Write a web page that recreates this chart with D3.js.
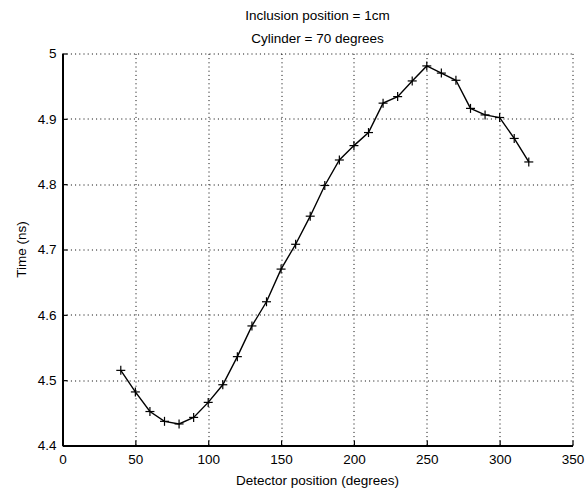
<!DOCTYPE html>
<html>
<head>
<meta charset="utf-8">
<script src="https://cdn.jsdelivr.net/npm/d3@7"></script>
<style>
  html, body { margin: 0; padding: 0; background: #fff; }
  svg { display: block; }
  text { font-family: "Liberation Sans", Arial, Helvetica, sans-serif; fill: #000; }
</style>
</head>
<body>
<div id="chart"></div>
<script>
// Detector positions (degrees) and measured times (ns)
const detectorPos = [40, 50, 60, 70, 80, 90, 100, 110, 120, 130, 140, 150, 160, 170, 180,
                     190, 200, 210, 220, 230, 240, 250, 260, 270, 280, 290, 300, 310, 320];
const timeNs = [4.515, 4.482, 4.452, 4.437, 4.433, 4.443, 4.466, 4.493, 4.536, 4.583,
                4.620, 4.670, 4.708, 4.751, 4.798, 4.837, 4.859, 4.879, 4.924, 4.934,
                4.958, 4.981, 4.970, 4.959, 4.916, 4.906, 4.902, 4.870, 4.834];

const xTicks = [0, 50, 100, 150, 200, 250, 300, 350];
const yTicks = [4.4, 4.5, 4.6, 4.7, 4.8, 4.9, 5];
const titleLines = ["Inclusion position = 1cm", "Cylinder = 70 degrees"];
const xLabel = "Detector position (degrees)";
const yLabel = "Time (ns)";

const W = 585, H = 492;
const margin = { left: 62.5, right: 12.5, top: 53.5, bottom: 46.5 };
const iw = W - margin.left - margin.right;
const ih = H - margin.top - margin.bottom;

const svg = d3.select("#chart").append("svg")
  .attr("width", W).attr("height", H);

const g = svg.append("g").attr("transform", `translate(${margin.left},${margin.top})`);

const x = d3.scaleLinear().domain([0, 350]).range([0, iw]);
const y = d3.scaleLinear().domain([4.4, 5]).range([ih, 0]);

// dotted grid
const grid = g.append("g").attr("stroke", "#000").attr("stroke-width", 1)
  .attr("stroke-dasharray", "1,3.2");
grid.selectAll("line.vx").data(xTicks.filter(d => d > 0)).join("line")
  .attr("x1", d => Math.round(x(d)) + 0.5).attr("x2", d => Math.round(x(d)) + 0.5)
  .attr("y1", ih).attr("y2", 0);
grid.selectAll("line.hy").data(yTicks.filter(d => d > 4.4)).join("line")
  .attr("x1", 0).attr("x2", iw)
  .attr("y1", d => Math.round(y(d)) + 0.5).attr("y2", d => Math.round(y(d)) + 0.5);

// axes: ticks point inward, labels outside
const xAxis = d3.axisBottom(x).tickValues(xTicks).tickFormat(d3.format("d"))
  .tickSizeInner(-5).tickSizeOuter(0).tickPadding(9);
const yAxis = d3.axisLeft(y).tickValues(yTicks).tickFormat(d => String(+d.toFixed(1)))
  .tickSizeInner(-5).tickSizeOuter(0).tickPadding(6);

const gx = g.append("g").attr("transform", `translate(0,${ih})`).call(xAxis);
const gy = g.append("g").call(yAxis);
[gx, gy].forEach(a => {
  a.select(".domain").attr("stroke", "#000").attr("stroke-width", 2);
  a.selectAll(".tick line").attr("stroke", "#000").attr("stroke-width", 1.2);
  a.selectAll(".tick text").attr("font-size", 13.5)
    .attr("font-family", '"Liberation Sans", Arial, sans-serif').attr("fill", "#000");
});

// data line
const line = d3.line().x((d, i) => x(detectorPos[i])).y(d => y(d));
g.append("path").datum(timeNs)
  .attr("fill", "none").attr("stroke", "#000").attr("stroke-width", 1.4)
  .attr("d", line);

// plus markers
const m = 4.5;
const marks = g.append("g").attr("stroke", "#000").attr("stroke-width", 1.2);
timeNs.forEach((v, i) => {
  const cx = x(detectorPos[i]), cy = y(v);
  marks.append("line").attr("x1", cx - m).attr("x2", cx + m).attr("y1", cy).attr("y2", cy);
  marks.append("line").attr("x1", cx).attr("x2", cx).attr("y1", cy - m).attr("y2", cy + m);
});

// title
const cxTitle = margin.left + iw / 2;
svg.selectAll("text.title").data(titleLines).join("text")
  .attr("class", "title")
  .attr("x", cxTitle).attr("y", (d, i) => 20 + i * 22.5)
  .attr("text-anchor", "middle").attr("font-size", 13.5)
  .text(d => d);

// axis labels
svg.append("text")
  .attr("x", cxTitle).attr("y", 485)
  .attr("text-anchor", "middle").attr("font-size", 13.5)
  .text(xLabel);
svg.append("text")
  .attr("transform", `translate(26,${margin.top + ih / 2}) rotate(-90)`)
  .attr("text-anchor", "middle").attr("font-size", 13.5)
  .text(yLabel);
</script>
</body>
</html>
